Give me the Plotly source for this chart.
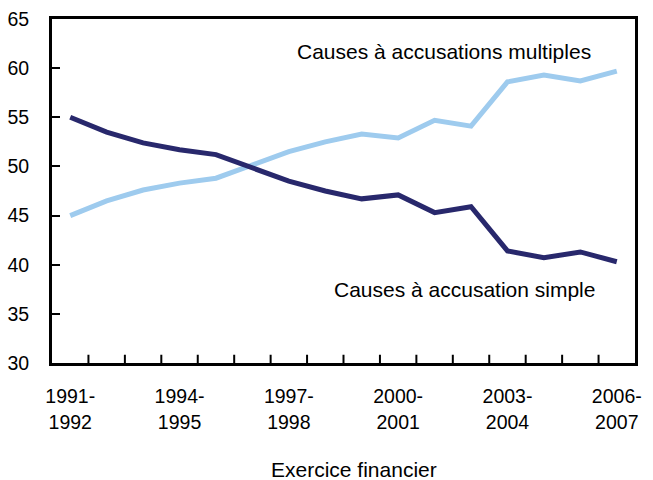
import plotly.graph_objects as go

years = ["1991-1992", "1992-1993", "1993-1994", "1994-1995", "1995-1996", "1996-1997",
         "1997-1998", "1998-1999", "1999-2000", "2000-2001", "2001-2002", "2002-2003",
         "2003-2004", "2004-2005", "2005-2006", "2006-2007"]
simple = [55.0, 53.5, 52.4, 51.7, 51.2, 49.9, 48.5, 47.5, 46.7, 47.1, 45.3, 45.9, 41.4, 40.7, 41.3, 40.3]
multiples = [45.0, 46.5, 47.6, 48.3, 48.8, 50.1, 51.5, 52.5, 53.3, 52.9, 54.7, 54.1, 58.6, 59.3, 58.7, 59.7]
tick_years = ["1991-1992", "1994-1995", "1997-1998", "2000-2001", "2003-2004", "2006-2007"]
tick_text = [y.replace("-", "-<br>") for y in tick_years]
y_ticks = [30, 35, 40, 45, 50, 55, 60, 65]

FONT = "Liberation Sans, Arial, sans-serif"

fig = go.Figure()
fig.add_trace(go.Scatter(x=years, y=multiples, mode="lines",
                         line=dict(color="#9ECBEE", width=5), name="Causes à accusations multiples"))
fig.add_trace(go.Scatter(x=years, y=simple, mode="lines",
                         line=dict(color="#28286C", width=5), name="Causes à accusation simple"))

fig.update_layout(
    width=653, height=480,
    margin=dict(l=52, r=18, t=19, b=117),
    paper_bgcolor="white", plot_bgcolor="white",
    showlegend=False,
    font=dict(family=FONT, size=19, color="black"),
    xaxis=dict(
        type="category", categoryorder="array", categoryarray=years,
        range=[-0.5, len(years) - 0.5], automargin=False,
        tickmode="array", tickvals=tick_years, ticktext=tick_text,
        ticks="", showgrid=False, zeroline=False,
        showline=True, linecolor="black", linewidth=3, mirror=True,
        ticklabelstandoff=14, tickfont=dict(size=19.5),
    ),
    yaxis=dict(
        range=[30, 65], tickmode="array", tickvals=y_ticks, automargin=False,
        ticks="inside", ticklen=8, tickwidth=2, tickcolor="black",
        showgrid=False, zeroline=False,
        showline=True, linecolor="black", linewidth=3, mirror=True,
        ticklabelstandoff=16, tickfont=dict(size=19.5),
    ),
)

# x tick marks at category boundaries, drawn inside (upward)
for i in range(1, len(years)):
    fig.add_shape(type="line", xref="x", yref="paper",
                  x0=i - 0.5, x1=i - 0.5, y0=0, y1=0.024,
                  line=dict(color="black", width=2))

fig.add_annotation(text="Causes à accusations multiples", xref="paper", yref="paper",
                   x=(444 - 52) / 583, y=(363 - 51) / 344, showarrow=False,
                   font=dict(size=21), xanchor="center", yanchor="middle")
fig.add_annotation(text="Causes à accusation simple", xref="paper", yref="paper",
                   x=(464 - 52) / 583, y=(363 - 289) / 344, showarrow=False,
                   font=dict(size=21), xanchor="center", yanchor="middle")
fig.add_annotation(text="Exercice financier", xref="paper", yref="paper",
                   x=(354 - 52) / 583, y=-(469 - 363) / 344, showarrow=False,
                   font=dict(size=21), xanchor="center", yanchor="middle")

fig.write_html("out.html", config={"displayModeBar": False},
               post_script="document.body.style.margin='0px';")
